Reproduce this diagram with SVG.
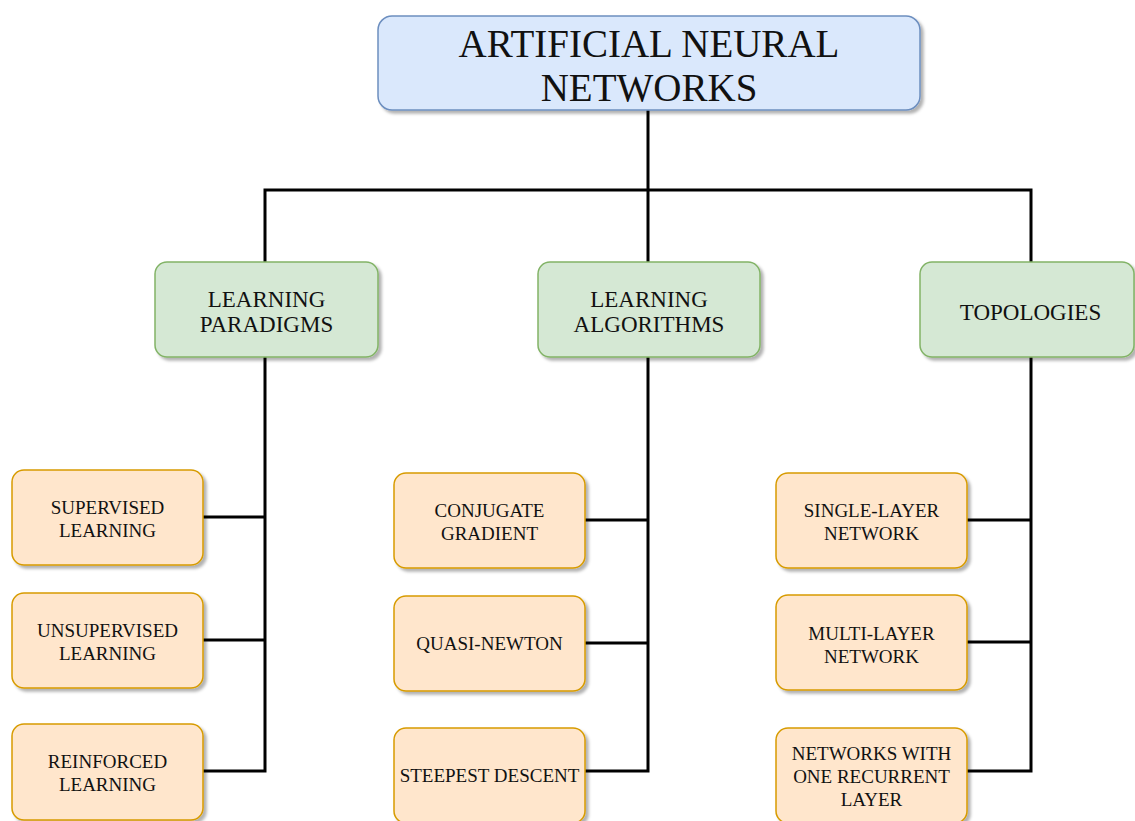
<svg xmlns="http://www.w3.org/2000/svg" width="1135" height="821" viewBox="0 0 1135 821">
  <defs>
    <filter id="shadow" x="-10%" y="-10%" width="130%" height="130%">
      <feDropShadow dx="3" dy="3" stdDeviation="1.5" flood-color="#000" flood-opacity="0.3"/>
    </filter>
  </defs>
  <style>
    .box { stroke-width: 1.5; filter: url(#shadow); }
    .root { fill: #dae8fc; stroke: #6c8ebf; }
    .cat { fill: #d5e8d4; stroke: #82b366; }
    .leaf { fill: #ffe6cc; stroke: #d79b00; }
    text { font-family: "Liberation Serif", "Times New Roman", serif; fill: #111; text-anchor: middle; }
    .t-root { font-size: 39px; }
    .t-cat { font-size: 23px; }
    .t-leaf { font-size: 19px; }
    .wire { fill: none; stroke: #000; stroke-width: 3; }
  </style>
  <rect width="1135" height="821" fill="#fff"/>

  <!-- connectors -->
  <g id="connectors" class="wire">
    <path d="M648 110 V190 M265 262 V190 H1031 V262 M648 190 V262"/>
    <path d="M265 357 V771 H203 M203 517 H265 M203 640 H265"/>
    <path d="M648 357 V771 H585 M585 520 H648 M585 643 H648"/>
    <path d="M1031 357 V771 H967 M967 520 H1031 M967 642 H1031"/>
  </g>

  <!-- root -->
  <g id="ann">
    <rect class="box root" x="378" y="16" width="542" height="94" rx="14"/>
    <text class="t-root" x="649" y="57">ARTIFICIAL NEURAL</text>
    <text class="t-root" x="649" y="101">NETWORKS</text>
  </g>

  <!-- categories -->
  <g id="paradigms">
    <rect class="box cat" x="155" y="262" width="223" height="95" rx="12"/>
    <text class="t-cat" x="266.5" y="307">LEARNING</text>
    <text class="t-cat" x="266.5" y="332">PARADIGMS</text>
  </g>
  <g id="algorithms">
    <rect class="box cat" x="538" y="262" width="222" height="95" rx="12"/>
    <text class="t-cat" x="649" y="307">LEARNING</text>
    <text class="t-cat" x="649" y="332">ALGORITHMS</text>
  </g>
  <g id="topologies">
    <rect class="box cat" x="920" y="262" width="214" height="95" rx="12"/>
    <text class="t-cat" x="1030.5" y="320">TOPOLOGIES</text>
  </g>

  <!-- learning paradigms -->
  <g id="supervised">
    <rect class="box leaf" x="12" y="470" width="191" height="95" rx="12"/>
    <text class="t-leaf" x="107.5" y="514">SUPERVISED</text>
    <text class="t-leaf" x="107.5" y="537">LEARNING</text>
  </g>
  <g id="unsupervised">
    <rect class="box leaf" x="12" y="593" width="191" height="95" rx="12"/>
    <text class="t-leaf" x="107.5" y="637">UNSUPERVISED</text>
    <text class="t-leaf" x="107.5" y="660">LEARNING</text>
  </g>
  <g id="reinforced">
    <rect class="box leaf" x="12" y="724" width="191" height="96" rx="12"/>
    <text class="t-leaf" x="107.5" y="768">REINFORCED</text>
    <text class="t-leaf" x="107.5" y="791">LEARNING</text>
  </g>

  <!-- learning algorithms -->
  <g id="conjugate">
    <rect class="box leaf" x="394" y="473" width="191" height="95" rx="12"/>
    <text class="t-leaf" x="489.5" y="517">CONJUGATE</text>
    <text class="t-leaf" x="489.5" y="540">GRADIENT</text>
  </g>
  <g id="quasi-newton">
    <rect class="box leaf" x="394" y="596" width="191" height="95" rx="12"/>
    <text class="t-leaf" x="489.5" y="650">QUASI-NEWTON</text>
  </g>
  <g id="steepest">
    <rect class="box leaf" x="394" y="728" width="191" height="95" rx="12"/>
    <text class="t-leaf" x="489.5" y="782">STEEPEST DESCENT</text>
  </g>

  <!-- topologies -->
  <g id="single-layer">
    <rect class="box leaf" x="776" y="473" width="191" height="95" rx="12"/>
    <text class="t-leaf" x="871.5" y="517">SINGLE-LAYER</text>
    <text class="t-leaf" x="871.5" y="540">NETWORK</text>
  </g>
  <g id="multi-layer">
    <rect class="box leaf" x="776" y="595" width="191" height="95" rx="12"/>
    <text class="t-leaf" x="871.5" y="640">MULTI-LAYER</text>
    <text class="t-leaf" x="871.5" y="663">NETWORK</text>
  </g>
  <g id="recurrent">
    <rect class="box leaf" x="776" y="728" width="191" height="95" rx="12"/>
    <text class="t-leaf" x="871.5" y="760">NETWORKS WITH</text>
    <text class="t-leaf" x="871.5" y="783">ONE RECURRENT</text>
    <text class="t-leaf" x="871.5" y="806">LAYER</text>
  </g>
</svg>
